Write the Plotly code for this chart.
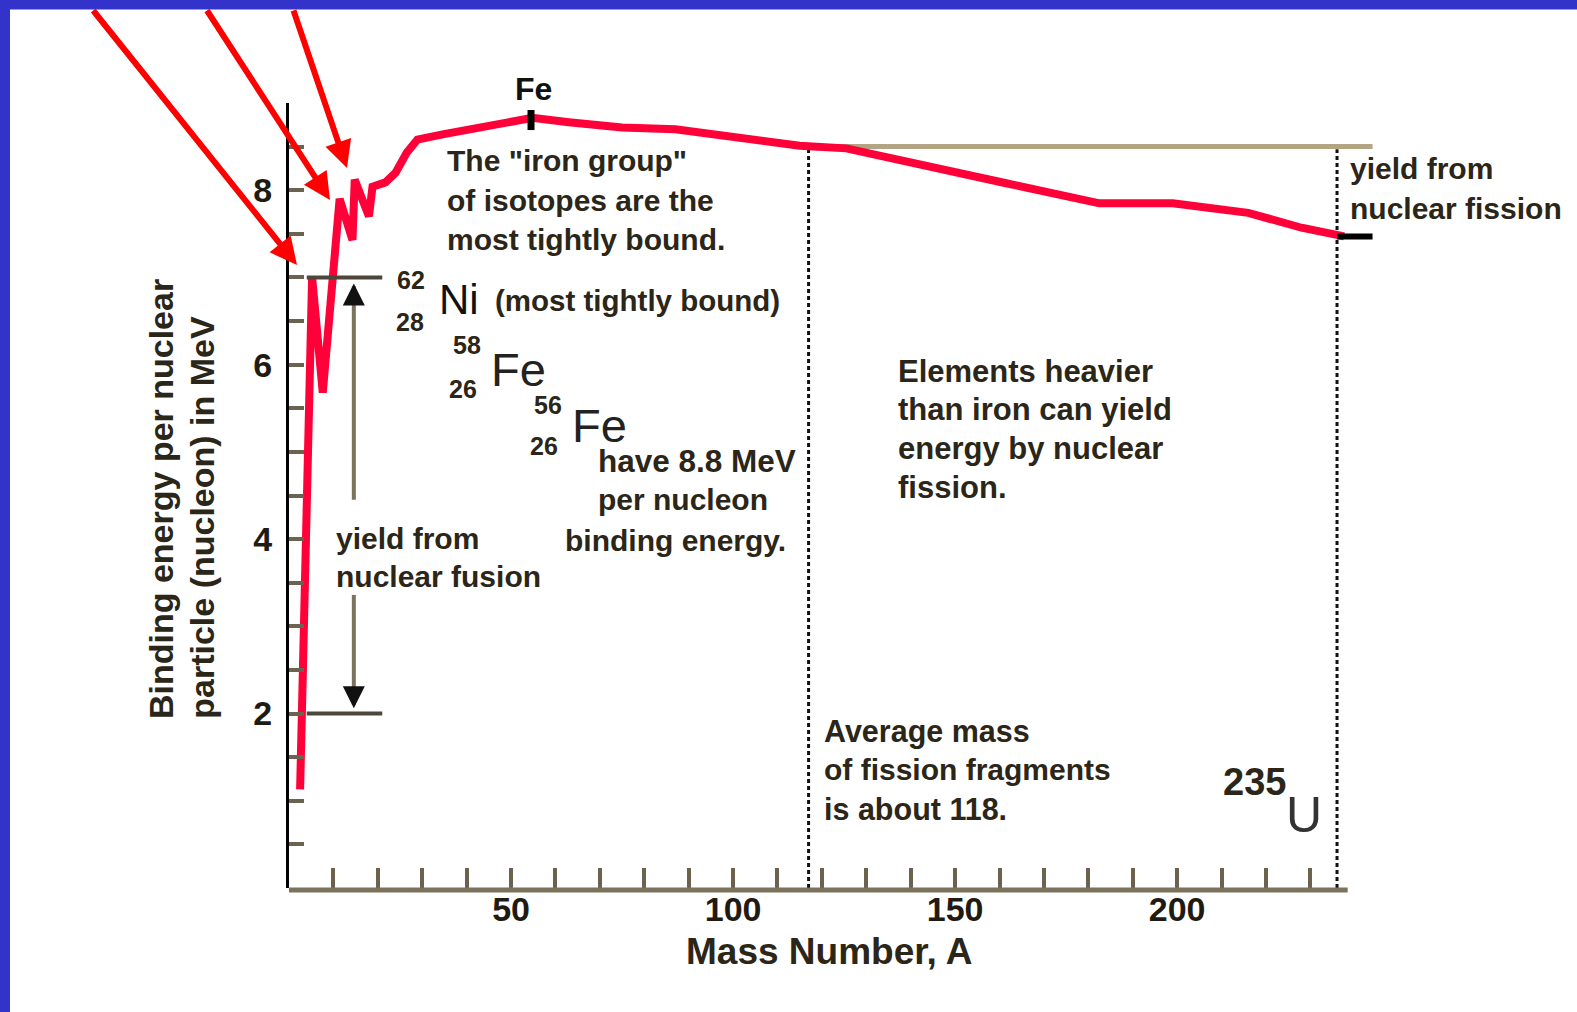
import plotly.graph_objects as go

# ---------------- data ----------------
mass_number = [2.5, 5.2, 7.6, 11.4, 14.3, 14.8, 18.0, 18.8, 21.7, 24.0, 26.5, 28.9, 34.6,
               42.6, 54.8, 63, 75, 87, 103, 115, 125.5, 144.5, 161.5, 182.5, 199, 216, 228, 237.6]
binding_energy = [1.13, 7.0, 5.68, 7.90, 7.43, 8.12, 7.70, 8.04, 8.09, 8.20, 8.43, 8.58, 8.64,
                  8.72, 8.83, 8.78, 8.72, 8.70, 8.58, 8.51, 8.48, 8.28, 8.08, 7.85, 7.85, 7.74, 7.57, 7.47]

x_tick_values = list(range(10, 240, 10))
x_tick_labels = {50: "50", 100: "100", 150: "150", 200: "200"}
y_tick_values = [0.5 * i for i in range(1, 19)]
y_tick_labels = {2.0: "2", 4.0: "4", 6.0: "6", 8.0: "8"}

fusion_levels = [2.0, 7.0]
fusion_span = [4.0, 21.0]
fusion_arrow_A = 14.6
fission_level = 8.50
fission_span = [117, 244]
fission_fragment_A = 117
uranium_A = 236
uranium_level = 7.47
uranium_top = 8.47
fragment_top = 8.48
iron_A = 54.5
iron_tick = [8.69, 8.92]
axis_end_A = 238.4

# ---------------- layout geometry ----------------
FW, FH = 1577, 1012
L, R, T, B = 289, 200, 103, 124
PW, PH = FW - L - R, FH - T - B
S = 1577 / 1568  # measured positions are in the 1568-wide view


def px(xd, s=S):
    return (xd * s - L) / PW


def py(yd, s=S):
    return (FH - B - yd * s) / PH


FONT = "Liberation Sans, Arial, sans-serif"
TXT = "#2b2618"

fig = go.Figure()

fig.add_trace(go.Scatter(
    x=mass_number, y=binding_energy, mode="lines",
    line=dict(color="#ff0038", width=8), hoverinfo="skip"))

shapes = []
shapes.append(dict(type="line", xref="x", yref="paper", x0=-1, x1=axis_end_A, y0=-2 / PH, y1=-2 / PH,
                   line=dict(color="#7c735d", width=5), layer="above"))
shapes.append(dict(type="line", xref="x", yref="y", x0=fission_span[0], x1=fission_span[1],
                   y0=fission_level, y1=fission_level, line=dict(color="#b3a583", width=5), layer="below"))
shapes.append(dict(type="line", xref="x", yref="y", x0=fission_fragment_A, x1=fission_fragment_A,
                   y0=0, y1=fragment_top, line=dict(color="#111111", width=3, dash="4px,3px"), layer="below"))
shapes.append(dict(type="line", xref="x", yref="y", x0=uranium_A, x1=uranium_A,
                   y0=0, y1=uranium_top, line=dict(color="#111111", width=3, dash="4px,3px"), layer="below"))
for lv in fusion_levels:
    shapes.append(dict(type="line", xref="x", yref="y", x0=fusion_span[0], x1=fusion_span[1],
                       y0=lv, y1=lv, line=dict(color="#4d473a", width=4), layer="above"))
shapes.append(dict(type="line", xref="x", yref="y", x0=fusion_arrow_A, x1=fusion_arrow_A,
                   y0=4.45, y1=6.9, line=dict(color="#7c735d", width=4), layer="above"))
shapes.append(dict(type="line", xref="x", yref="y", x0=fusion_arrow_A, x1=fusion_arrow_A,
                   y0=2.1, y1=3.36, line=dict(color="#7c735d", width=4), layer="above"))
shapes.append(dict(type="line", xref="x", yref="y", x0=iron_A, x1=iron_A, y0=iron_tick[0], y1=iron_tick[1],
                   line=dict(color="#000000", width=7), layer="above"))
shapes.append(dict(type="line", xref="x", yref="y", x0=uranium_A, x1=fission_span[1],
                   y0=uranium_level, y1=uranium_level, line=dict(color="#000000", width=6), layer="above"))
# blue frame (top and left)
shapes.append(dict(type="rect", xref="paper", yref="paper", x0=px(-2, 1), x1=px(FW + 2, 1), y0=py(9.5, 1), y1=py(-2, 1),
                   fillcolor="#3333cc", line=dict(width=0), layer="above"))
shapes.append(dict(type="rect", xref="paper", yref="paper", x0=px(-2, 1), x1=px(10, 1), y0=py(FH + 2, 1), y1=py(-2, 1),
                   fillcolor="#3333cc", line=dict(width=0), layer="above"))

ann = []


def text(s, xd, yd, size=30, anchor="left", bold=True, color=TXT):
    if anchor == "left":
        xd -= 2.5
    ann.append(dict(text=s, x=px(xd), y=py(yd), xref="paper", yref="paper", showarrow=False,
                    xanchor=anchor, yanchor="middle",
                    font=dict(family=FONT, size=size, color=color, weight="bold" if bold else "normal")))


text('The "iron group"', 445, 160)
text("of isotopes are the", 445, 199)
text("most tightly bound.", 445, 238)
text("62", 395, 278, size=25)
text("28", 394, 320, size=25)
text("Ni", 437, 298, size=42, bold=False, color="#111111")
text("(most tightly bound)", 493, 299, size=29.5)
text("58", 451, 343, size=25)
text("26", 447, 387, size=25)
text("Fe", 489, 367, size=47, bold=False, color="#222222")
text("56", 531, 403, size=25)
text("26", 527, 443, size=25)
text("Fe", 569, 423, size=47, bold=False, color="#222222")
text("have 8.8 MeV", 595, 458, size=31.5)
text("per nucleon", 595, 497)
text("binding energy.", 562, 537)
text("yield from", 335, 535)
text("nuclear fusion", 335, 573)
text("Elements heavier", 893, 369, size=31)
text("than iron can yield", 893, 407, size=31)
text("energy by nuclear", 893, 446, size=31)
text("fission.", 893, 485, size=31)
text("Average mass", 820, 727, size=30.5)
text("of fission fragments", 820, 765, size=30)
text("is about 118.", 820, 804, size=30.5)
text("yield from", 1343, 168, size=30)
text("nuclear fission", 1343, 207, size=30)
text("235", 1247, 778, size=38, anchor="center")
text("U", 1297, 810, size=50, bold=False, anchor="center", color="#333333")
text("Fe", 530, 88, size=32, anchor="center", color="#111111")
text("Mass Number, A", 825, 946, size=37, anchor="center")

for line, xc in [("Binding energy per nuclear", 160), ("particle (nucleon) in MeV", 200)]:
    ann.append(dict(text=line, x=px(xc), y=py(717), xref="paper", yref="paper", showarrow=False,
                    textangle=-90, xanchor="center", yanchor="bottom",
                    font=dict(family=FONT, size=34, color=TXT, weight="bold")))

# red pointer arrows: tips and tails in original pixel positions
for (tx, ty, ax, ay) in [(297, 265, -205, -256), (330, 200, -124, -191), (347, 168, -54, -159)]:
    ann.append(dict(text="", x=px(tx, 1), y=py(ty, 1), xref="paper", yref="paper", ax=ax, ay=ay,
                    axref="pixel", ayref="pixel",
                    showarrow=True, arrowhead=2, arrowsize=0.9, arrowwidth=6, arrowcolor="#fe0000",
                    standoff=0, startstandoff=0))
ann.append(dict(text="", x=fusion_arrow_A, y=6.93, xref="x", yref="y", ax=0, ay=22,
                showarrow=True, arrowhead=2, arrowsize=1.1, arrowwidth=4, arrowcolor="#111111", standoff=0))
ann.append(dict(text="", x=fusion_arrow_A, y=2.06, xref="x", yref="y", ax=0, ay=-22,
                showarrow=True, arrowhead=2, arrowsize=1.1, arrowwidth=4, arrowcolor="#111111", standoff=0))

fig.update_layout(
    width=FW, height=FH, autosize=False,
    margin=dict(l=L, r=R, t=T, b=B, pad=0),
    paper_bgcolor="white", plot_bgcolor="white", showlegend=False,
    shapes=shapes, annotations=ann,
    xaxis=dict(range=[0, 245], showgrid=False, zeroline=False, showline=False,
               ticks="inside", ticklen=20, tickwidth=4, tickcolor="#6b634f",
               tickvals=x_tick_values, ticktext=[x_tick_labels.get(v, "") for v in x_tick_values],
               tickfont=dict(family=FONT, size=34, color="#1f1b12", weight="bold"),
               ticklabelstandoff=-2),
    yaxis=dict(range=[0, 9], showgrid=False, zeroline=False, showline=True, linecolor="#000000", linewidth=3,
               ticks="inside", ticklen=15, tickwidth=4, tickcolor="#6b634f",
               tickvals=y_tick_values, ticktext=[y_tick_labels.get(v, "") for v in y_tick_values],
               tickfont=dict(family=FONT, size=34, color="#1f1b12", weight="bold"),
               ticklabelstandoff=7),
)

fig.write_html("out.html", config={"displayModeBar": False},
               post_script="document.body.style.margin='0';document.body.style.overflow='hidden';")
